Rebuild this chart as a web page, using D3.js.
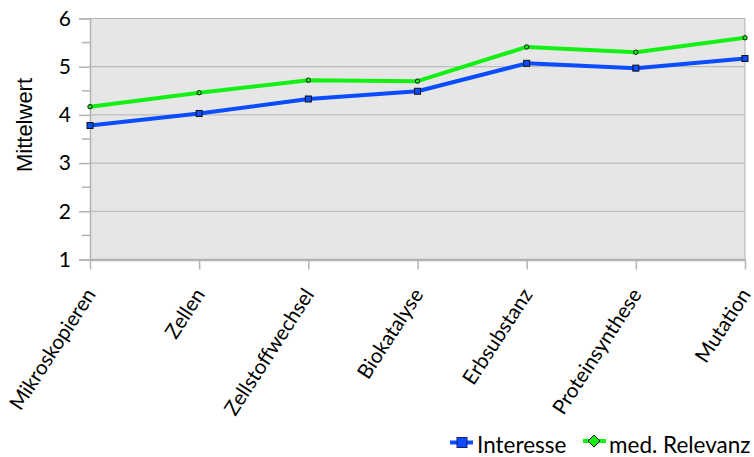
<!DOCTYPE html>
<html>
<head>
<meta charset="utf-8">
<script src="https://cdn.jsdelivr.net/npm/d3@7"></script>
<style>
  html, body { margin: 0; padding: 0; background: #fff; }
  svg { display: block; }
</style>
</head>
<body>
<svg id="chart" width="754" height="457"></svg>
<script>
// Themen und Mittelwerte der beiden Reihen
const categories = ["Mikroskopieren", "Zellen", "Zellstoffwechsel", "Biokatalyse", "Erbsubstanz", "Proteinsynthese", "Mutation"];
const interesse = [3.78, 4.03, 4.33, 4.49, 5.07, 4.97, 5.17];
const relevanz = [4.17, 4.46, 4.72, 4.70, 5.41, 5.30, 5.60];
const yTicks = [1, 2, 3, 4, 5, 6];
const seriesNames = ["Interesse", "med. Relevanz"];

const svg = d3.select("#chart");
const plotLeft = 90, plotRight = 745, plotTop = 18.5, plotBottom = 259.5;

const x = d3.scalePoint().domain(categories).range([plotLeft, plotRight]);
const y = d3.scaleLinear().domain([1, 6]).range([plotBottom, plotTop]);

const fontMain = "Lato, 'DejaVu Sans', sans-serif";

// Plot background
svg.append("rect")
  .attr("x", plotLeft).attr("y", plotTop)
  .attr("width", plotRight - plotLeft).attr("height", plotBottom - plotTop)
  .attr("fill", "#e6e6e6");

// Horizontal grid lines
svg.append("g").selectAll("line")
  .data(yTicks)
  .join("line")
  .attr("x1", plotLeft).attr("x2", plotRight)
  .attr("y1", d => y(d)).attr("y2", d => y(d))
  .attr("stroke", "#b3b3b3").attr("stroke-width", 1);

// Right border
svg.append("line")
  .attr("x1", plotRight).attr("x2", plotRight)
  .attr("y1", plotTop).attr("y2", plotBottom)
  .attr("stroke", "#b3b3b3");

// Y axis with major and minor ticks
const yAxis = svg.append("g").attr("transform", `translate(${plotLeft},0)`)
  .call(d3.axisLeft(y).tickValues(yTicks).tickSize(11).tickPadding(8).tickFormat(d3.format("d")));
yAxis.select(".domain").attr("stroke", "#b3b3b3").attr("stroke-width", 1.5);
yAxis.selectAll(".tick line").attr("stroke", "#b3b3b3").attr("stroke-width", 1.5);
yAxis.selectAll(".tick text").attr("font-family", fontMain).attr("font-size", 21).attr("fill", "#000");
yAxis.append("g").selectAll("line")
  .data(d3.range(1.5, 6, 1))
  .join("line")
  .attr("x1", -8).attr("x2", 0)
  .attr("y1", d => y(d)).attr("y2", d => y(d))
  .attr("stroke", "#b3b3b3").attr("stroke-width", 1.5);

// X axis
const xAxis = svg.append("g").attr("transform", `translate(0,${plotBottom})`)
  .call(d3.axisBottom(x).tickSize(10).tickSizeOuter(0));
xAxis.select(".domain").attr("stroke", "#b3b3b3").attr("stroke-width", 2.5);
xAxis.selectAll(".tick line").attr("stroke", "#b3b3b3").attr("stroke-width", 1.5);
xAxis.selectAll(".tick text")
  .attr("font-family", fontMain).attr("font-size", 20.5).attr("fill", "#000")
  .attr("text-anchor", "end")
  .attr("x", 0).attr("y", 0).attr("dy", "0.35em")
  .attr("transform", "translate(0,31) rotate(-57)");

// Y axis title
svg.append("text")
  .attr("transform", "translate(32,125) rotate(-90)")
  .attr("text-anchor", "middle")
  .attr("font-family", "'Liberation Sans', Arial, sans-serif")
  .attr("font-size", 22)
  .text("Mittelwert");

// Lines
const line = d3.line().x((d, i) => x(categories[i])).y(d => y(d));
const colors = ["#0a4dff", "#14f014"];
[interesse, relevanz].forEach((vals, k) => {
  svg.append("path")
    .datum(vals)
    .attr("fill", "none")
    .attr("stroke", colors[k])
    .attr("stroke-width", 4)
    .attr("stroke-linejoin", "round")
    .attr("d", line);
});

// Markers
svg.append("g").selectAll("rect")
  .data(interesse)
  .join("rect")
  .attr("x", (d, i) => x(categories[i]) - 3)
  .attr("y", d => y(d) - 3)
  .attr("width", 6).attr("height", 6)
  .attr("fill", colors[0]).attr("stroke", "#111").attr("stroke-width", 1);
svg.append("g").selectAll("circle")
  .data(relevanz)
  .join("circle")
  .attr("cx", (d, i) => x(categories[i]))
  .attr("cy", d => y(d))
  .attr("r", 2.2)
  .attr("fill", colors[1]).attr("stroke", "#111").attr("stroke-width", 1);

// Legend
const legend = svg.append("g").attr("font-family", fontMain).attr("font-size", 22.5);
const lg1 = legend.append("g").attr("transform", "translate(450,442.5)");
lg1.append("line").attr("x1", 0).attr("x2", 23).attr("y1", 0).attr("y2", 0)
  .attr("stroke", colors[0]).attr("stroke-width", 4);
lg1.append("rect").attr("x", 7).attr("y", -5).attr("width", 10).attr("height", 10)
  .attr("fill", colors[0]).attr("stroke", "#1a1a6e").attr("stroke-width", 1);
lg1.append("text").attr("x", 27).attr("y", 10.5).text(seriesNames[0]);

const lg2 = legend.append("g").attr("transform", "translate(583,441)");
lg2.append("line").attr("x1", 0).attr("x2", 23).attr("y1", 0).attr("y2", 0)
  .attr("stroke", colors[1]).attr("stroke-width", 4);
lg2.append("path").attr("d", "M11,-6L17,0L11,6L5,0Z")
  .attr("fill", colors[1]).attr("stroke", "#111").attr("stroke-width", 1);
lg2.append("text").attr("x", 26).attr("y", 12).text(seriesNames[1]);
</script>
</body>
</html>
